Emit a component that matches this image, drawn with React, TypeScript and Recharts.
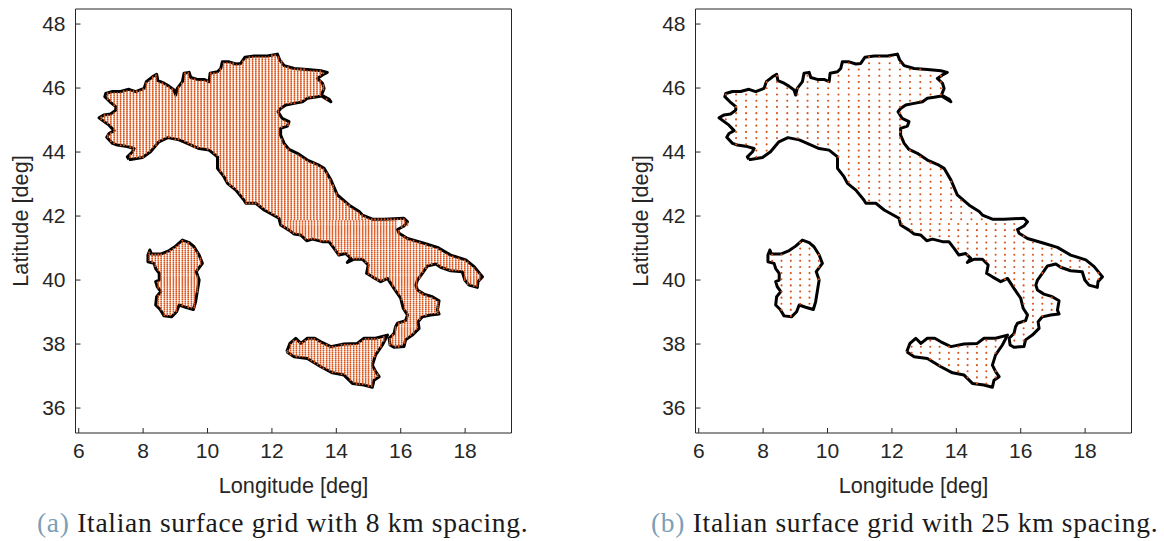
import * as React from "react";
import { ScatterChart, Scatter, XAxis, YAxis, Label } from "recharts";

const LON_TICKS = [6, 8, 10, 12, 14, 16, 18];
const LAT_TICKS = [36, 38, 40, 42, 44, 46, 48];

// coastline, [lon, lat]
const MAINLAND = [
  [7.56, 43.77], [7.51, 43.85], [7.67, 44.01], [7.72, 44.11], [7.51, 44.17], [7.2, 44.22], [7.05, 44.27], [6.87, 44.46],
  [6.94, 44.58], [7.1, 44.67], [6.94, 44.84], [6.79, 44.95], [6.63, 45.07], [6.79, 45.16], [6.99, 45.19], [7.15, 45.31],
  [7.15, 45.42], [6.97, 45.57], [6.81, 45.73], [6.84, 45.83], [7.05, 45.89], [7.3, 45.89], [7.56, 45.96], [7.77, 45.89],
  [8.03, 45.99], [8.1, 46.2], [8.29, 46.35], [8.42, 46.43], [8.46, 46.23], [8.65, 46.15], [8.8, 46.06], [8.96, 45.94],
  [9.01, 45.78], [9.06, 45.99], [9.22, 46.2], [9.27, 46.46], [9.43, 46.49], [9.48, 46.33], [9.68, 46.27], [9.89, 46.27],
  [10.05, 46.2], [10.08, 46.46], [10.31, 46.51], [10.41, 46.61], [10.46, 46.82], [10.67, 46.82], [10.88, 46.75], [11.03, 46.77],
  [11.16, 46.96], [11.45, 47.0], [11.86, 47.0], [12.17, 47.06], [12.24, 46.88], [12.38, 46.7], [12.69, 46.61], [13.1, 46.58],
  [13.52, 46.54], [13.72, 46.49], [13.57, 46.41], [13.41, 46.3], [13.57, 46.15], [13.62, 45.99], [13.54, 45.78], [13.78, 45.65],
  [13.83, 45.57], [13.54, 45.75], [13.31, 45.71], [13.1, 45.68], [12.95, 45.57], [12.69, 45.52], [12.43, 45.47], [12.27, 45.36],
  [12.19, 45.26], [12.32, 45.05], [12.53, 44.95], [12.48, 44.81], [12.27, 44.74], [12.27, 44.53], [12.38, 44.27], [12.53, 44.08],
  [12.79, 43.96], [13.1, 43.75], [13.46, 43.59], [13.62, 43.49], [13.83, 43.13], [14.03, 42.66], [14.4, 42.34], [14.71, 42.14],
  [14.81, 42.03], [15.12, 41.9], [15.48, 41.9], [16.1, 41.93], [16.21, 41.82], [16.1, 41.69], [15.9, 41.58], [15.95, 41.46],
  [16.21, 41.3], [16.72, 41.15], [17.14, 41.02], [17.55, 40.78], [18.02, 40.63], [18.28, 40.42], [18.54, 40.1], [18.4, 39.95],
  [18.38, 39.77], [18.12, 39.84], [17.99, 40.0], [17.91, 40.26], [17.55, 40.29], [17.24, 40.4], [17.09, 40.5], [16.83, 40.44],
  [16.67, 40.21], [16.52, 40.0], [16.47, 39.84], [16.52, 39.69], [16.72, 39.56], [16.98, 39.48], [17.19, 39.35], [17.14, 39.06],
  [17.19, 38.94], [16.93, 38.91], [16.67, 38.85], [16.54, 38.7], [16.57, 38.49], [16.36, 38.28], [16.15, 38.13], [16.1, 37.92],
  [15.79, 37.9], [15.67, 37.97], [15.64, 38.18], [15.79, 38.33], [15.84, 38.54], [15.9, 38.65], [16.15, 38.73], [16.21, 38.91],
  [16.08, 39.11], [16.0, 39.43], [15.79, 39.74], [15.59, 40.05], [15.38, 39.95], [15.12, 40.1], [14.94, 40.21], [14.99, 40.47],
  [14.81, 40.65], [14.55, 40.65], [14.34, 40.55], [14.45, 40.68], [14.29, 40.83], [14.08, 40.78], [13.93, 40.99], [13.77, 41.2],
  [13.57, 41.2], [13.26, 41.28], [13.08, 41.23], [12.89, 41.41], [12.69, 41.44], [12.53, 41.56], [12.27, 41.72], [12.22, 41.93],
  [11.76, 42.19], [11.5, 42.4], [11.19, 42.4], [11.13, 42.5], [10.88, 42.81], [10.62, 43.02], [10.51, 43.23], [10.31, 43.49],
  [10.31, 43.85], [10.05, 44.06], [9.74, 44.11], [9.37, 44.27], [9.12, 44.38], [8.77, 44.45], [8.49, 44.32], [8.23, 44.01],
  [7.98, 43.83], [7.61, 43.77], [7.56, 43.77],
];
const SARDINIA = [
  [8.55, 40.81], [8.26, 40.81], [8.21, 40.94], [8.15, 40.78], [8.15, 40.57], [8.34, 40.52], [8.39, 40.36], [8.5, 40.21],
  [8.5, 40.0], [8.39, 39.95], [8.44, 39.79], [8.55, 39.64], [8.42, 39.48], [8.39, 39.22], [8.53, 39.08], [8.65, 38.88],
  [8.88, 38.85], [9.04, 39.01], [9.12, 39.22], [9.32, 39.15], [9.56, 39.08], [9.63, 39.32], [9.74, 40.0], [9.65, 40.26],
  [9.84, 40.52], [9.74, 40.78], [9.58, 41.04], [9.43, 41.17], [9.22, 41.25], [9.01, 41.06], [8.81, 40.92], [8.55, 40.81],
];
const SICILY = [
  [12.46, 37.76], [12.56, 38.02], [12.74, 38.18], [12.9, 38.02], [13.1, 38.18], [13.33, 38.18], [13.52, 38.07], [13.83, 37.92],
  [14.24, 38.0], [14.65, 38.02], [14.86, 38.18], [15.22, 38.18], [15.59, 38.28], [15.43, 37.97], [15.22, 37.66], [15.12, 37.34],
  [15.22, 37.14], [15.33, 36.98], [15.17, 36.87], [15.12, 36.65], [14.86, 36.72], [14.5, 36.77], [14.24, 37.03], [13.88, 37.1],
  [13.52, 37.29], [13.1, 37.55], [12.69, 37.6], [12.46, 37.76],
];

// grid columns: [lon, lat from, lat to, (lat from, lat to ...)]
const NORTH_8KM = [
  [6.7, 45.02, 45.11], [6.8, 44.96, 45.17], [6.9, 44.45, 44.53, 44.88, 45.18, 45.62, 45.84], [7.0, 44.3, 44.61, 44.78, 45.2, 45.55, 45.87],
  [7.1, 44.25, 45.27, 45.46, 45.89], [7.2, 44.22, 45.89], [7.3, 44.2, 45.89], [7.4, 44.19, 45.92], [7.5, 44.17, 45.95],
  [7.6, 43.78, 43.94, 44.15, 45.93], [7.7, 43.78, 45.9], [7.8, 43.79, 45.9], [7.9, 43.8, 45.94], [8.0, 43.83, 45.98],
  [8.1, 43.92, 46.2], [8.2, 43.98, 46.27], [8.3, 44.09, 46.36], [8.4, 44.21, 46.41], [8.5, 44.33, 46.21], [8.6, 44.37, 46.17],
  [8.7, 44.42, 46.12], [8.8, 44.45, 46.06], [8.9, 44.42, 45.99], [9.0, 44.4, 45.8], [9.1, 44.39, 46.03], [9.2, 44.35, 46.17],
  [9.3, 44.3, 46.47], [9.4, 44.25, 46.49], [9.5, 44.2, 46.33], [9.6, 44.15, 46.29], [9.7, 44.11, 46.27], [9.8, 44.1, 46.27],
  [9.9, 44.09, 46.27], [10.0, 44.07, 46.23], [10.1, 44.03, 46.48], [10.2, 43.95, 46.49], [10.3, 43.86, 46.51], [10.4, 43.37, 46.6],
  [10.5, 43.24, 46.8], [10.6, 43.05, 46.82], [10.7, 42.93, 46.82], [10.8, 42.9, 46.78], [10.9, 42.79, 46.75], [11.0, 42.66, 46.77],
  [11.1, 42.54, 46.87], [11.2, 42.4, 46.96], [11.3, 42.4, 46.98], [11.4, 42.4, 47.0], [11.5, 42.4, 47.0], [11.6, 42.33, 47.0],
  [11.7, 42.24, 47.0], [11.8, 42.17, 47.0], [11.9, 42.12, 47.01], [12.0, 42.05, 47.03], [12.1, 41.97, 47.05], [12.2, 41.93, 47.0],
  [12.3, 41.87, 44.46, 44.75, 45.02, 45.4, 46.85], [12.4, 41.87, 44.25, 44.78, 44.98, 45.48, 46.7], [12.5, 41.87, 44.11, 44.82, 44.96, 45.5, 46.66],
  [12.6, 41.87, 44.02, 45.5, 46.64], [12.7, 41.87, 43.95, 45.52, 46.61], [12.8, 41.87, 43.95, 45.54, 46.6], [12.9, 41.87, 43.88, 45.56, 46.6],
  [13.0, 41.87, 43.82, 45.62, 46.59], [13.1, 41.87, 43.75, 45.68, 46.58], [13.2, 41.87, 43.71, 45.7, 46.57], [13.3, 41.87, 43.66, 45.71, 46.56],
  [13.4, 41.87, 43.61, 45.73, 46.55], [13.5, 41.87, 43.56, 45.76, 46.22, 46.36, 46.54], [13.6, 41.87, 43.48, 45.92, 46.12, 46.43, 46.52],
  [13.7, 41.87, 43.35, 45.64, 45.7], [13.8, 41.87, 43.18], [13.9, 41.87, 42.97], [14.0, 41.87, 42.73], [14.1, 41.87, 42.58],
  [14.2, 41.87, 42.49], [14.3, 41.87, 42.41], [14.4, 41.87, 42.34], [14.5, 41.87, 42.24], [14.6, 41.87, 42.17], [14.7, 41.87, 42.14],
  [14.8, 41.87, 42.04], [14.9, 41.87, 42.0], [15.0, 41.87, 41.95], [15.1, 41.87, 41.9], [15.2, 41.87, 41.9], [15.3, 41.87, 41.9],
  [15.4, 41.87, 41.9], [15.5, 41.87, 41.9], [15.6, 41.87, 41.9], [15.7, 41.87, 41.91], [15.8, 41.87, 41.91], [15.9, 41.87, 41.92],
  [16.0, 41.87, 41.92], [16.1, 41.87, 41.93],
];
const SOUTH_8KM = [
  [12.3, 41.7, 41.85], [12.39, 41.64, 41.85], [12.49, 41.58, 41.85, 37.73, 37.85], [12.58, 41.52, 41.85, 37.67, 38.03],
  [12.67, 41.45, 41.85, 37.62, 38.12], [12.76, 41.43, 41.85, 37.59, 38.16], [12.86, 41.41, 41.85, 37.58, 38.05], [12.95, 41.35, 41.85, 37.57, 38.06],
  [13.04, 41.27, 41.85, 37.56, 38.13], [13.14, 41.25, 41.85, 37.53, 38.18], [13.23, 41.27, 41.85, 37.47, 38.18], [13.32, 41.26, 41.85, 37.42, 38.18],
  [13.42, 41.23, 41.85, 37.35, 38.13], [13.51, 41.21, 41.85, 37.3, 38.08], [13.6, 41.2, 41.85, 37.24, 38.03], [13.7, 41.2, 41.85, 37.2, 37.98],
  [13.79, 41.17, 41.85, 37.15, 37.94], [13.88, 41.05, 41.85, 37.1, 37.92], [13.98, 40.92, 41.85, 37.08, 37.95], [14.07, 40.79, 41.85, 37.06, 37.97],
  [14.16, 40.8, 41.85, 37.05, 37.98], [14.26, 40.82, 41.85, 37.01, 38.0], [14.35, 40.75, 41.85, 36.94, 38.0], [14.44, 40.7, 41.85, 36.83, 38.01],
  [14.54, 40.65, 41.85, 36.76, 38.02], [14.63, 40.65, 41.85, 36.75, 38.02], [14.72, 40.65, 41.85, 36.74, 38.08], [14.82, 40.64, 41.85, 36.72, 38.15],
  [14.91, 40.54, 41.85, 36.71, 38.18], [15.0, 40.17, 41.85, 36.68, 38.18], [15.1, 40.11, 41.85, 36.66, 38.18],
  [15.19, 40.05, 41.85, 36.89, 37.2, 37.56, 38.2], [15.28, 40.0, 41.85, 36.95, 37.06, 37.77, 38.2], [15.38, 39.95, 41.85, 37.88, 38.22],
  [15.47, 39.99, 41.85, 38.04, 38.25], [15.56, 40.04, 41.85], [15.66, 39.94, 41.85, 37.95, 38.2], [15.75, 39.8, 41.85, 37.92, 38.29],
  [15.84, 39.66, 41.85, 37.91, 38.54], [15.94, 39.53, 41.55, 37.91, 38.66], [16.03, 39.36, 41.41, 41.62, 41.85, 37.92, 38.69],
  [16.12, 38.0, 38.72, 39.05, 41.36, 41.68, 41.85], [16.21, 38.17, 41.3, 41.7, 41.82], [16.3, 38.23, 41.27], [16.4, 38.32, 41.24],
  [16.49, 38.41, 41.21], [16.59, 38.76, 39.65, 40.02, 41.18], [16.68, 38.86, 39.58, 40.23, 41.16], [16.78, 38.88, 39.54, 40.36, 41.13],
  [16.87, 38.9, 39.49, 40.44, 41.09], [16.96, 38.91, 39.48, 40.47, 41.07], [17.06, 38.92, 39.43, 40.5, 41.04], [17.15, 38.93, 39.33, 40.49, 41.0],
  [17.24, 40.4, 40.93], [17.34, 40.36, 40.85], [17.43, 40.32, 40.8], [17.52, 40.29, 40.78], [17.61, 40.28, 40.74], [17.71, 40.28, 40.71],
  [17.8, 40.27, 40.68], [17.89, 40.26, 40.66], [17.99, 40.0, 40.63], [18.08, 39.87, 40.56], [18.17, 39.82, 40.49], [18.27, 39.8, 40.43],
  [18.36, 39.77, 40.3], [18.45, 39.95, 40.2],
  // Sardinia
  [8.19, 40.6, 40.88], [8.28, 40.54, 40.81], [8.38, 40.4, 40.81], [8.47, 39.15, 39.53, 39.75, 39.98, 40.25, 40.81], [8.56, 39.03, 40.81],
  [8.66, 38.88, 40.85], [8.75, 38.87, 40.9], [8.84, 38.85, 40.94], [8.94, 38.93, 41.02], [9.03, 39.0, 41.07], [9.12, 39.22, 41.16],
  [9.22, 39.19, 41.25], [9.31, 39.15, 41.21], [9.4, 39.13, 41.18], [9.5, 39.1, 41.09], [9.59, 39.13, 41.03],
  [9.68, 39.6, 40.17, 40.3, 40.88], [9.78, 40.44, 40.68],
];
const NORTH_25KM = [
  [6.84, 45.0, 45.17, 45.7, 45.82], [7.16, 44.23, 45.89], [7.47, 44.17, 45.94], [7.79, 43.79, 45.9], [8.11, 43.93, 46.2], [8.43, 44.24, 46.42],
  [8.75, 44.44, 46.1], [9.07, 44.39, 46.0], [9.38, 44.26, 46.49], [9.7, 44.11, 46.27], [10.02, 44.06, 46.3], [10.34, 43.8, 46.53],
  [10.66, 42.97, 46.82], [10.97, 42.7, 46.76], [11.29, 42.4, 46.98], [11.61, 42.32, 47.0], [11.93, 42.1, 47.01], [12.25, 41.87, 46.9],
  [12.56, 41.87, 44.05, 45.5, 46.65], [12.88, 41.87, 43.9, 45.55, 46.6], [13.2, 41.87, 43.71, 45.7, 46.57], [13.52, 41.87, 43.55, 45.77, 46.22, 46.38, 46.53],
  [13.84, 41.87, 43.12], [14.15, 41.87, 42.53], [14.47, 41.87, 42.26], [14.79, 41.87, 42.05],
];
const SOUTH_25KM = [
  [12.32, 41.69, 41.8], [12.61, 41.5, 41.8, 37.65, 38.06], [12.9, 41.4, 41.8, 37.58, 38.02], [13.19, 41.26, 41.8, 37.5, 38.18],
  [13.48, 41.22, 41.8, 37.32, 38.1], [13.77, 41.2, 41.8, 37.16, 37.95], [14.06, 40.8, 41.8, 37.06, 37.97], [14.35, 40.75, 41.8, 36.94, 38.0],
  [14.64, 40.65, 41.8, 36.75, 38.02], [14.93, 40.5, 41.8, 36.7, 38.18], [15.22, 40.03, 41.8, 36.9, 37.15, 37.66, 38.2], [15.51, 40.01, 41.8],
  [15.8, 39.72, 41.8, 37.92, 38.4], [16.09, 37.93, 38.7, 39.1, 41.38], [16.38, 38.3, 41.25], [16.67, 38.85, 39.58, 40.21, 41.16],
  [16.96, 38.91, 39.48, 40.47, 41.07], [17.25, 40.4, 40.92], [17.54, 40.29, 40.77], [17.83, 40.27, 40.68], [18.12, 39.84, 40.52], [18.41, 39.85, 40.25],
  // Sardinia
  [8.28, 40.54, 40.81], [8.57, 39.03, 40.81], [8.86, 38.85, 40.95], [9.15, 39.21, 41.18], [9.44, 39.12, 41.17], [9.73, 39.95, 40.2, 40.35, 40.8],
];

// the grid rows sit on a regular latitude pitch, so a column span opens into its nodes
function gridPoints(columns: number[][], base: number, pitch: number) {
  const points: { lon: number; lat: number }[] = [];
  columns.forEach(([lon, ...spans]) => {
    for (let i = 0; i < spans.length; i += 2) {
      const first = Math.ceil((spans[i] - base) / pitch);
      const last = Math.floor((spans[i + 1] - base) / pitch);
      for (let k = first; k <= last; k++) {
        points.push({ lon, lat: base + k * pitch });
      }
    }
  });
  return points;
}

const toPoints = (line: number[][]) => line.map(([lon, lat]) => ({ lon, lat }));

const FONT = "'Liberation Sans', Arial, sans-serif";
const INK = "#262626";
const ORANGE = "#d95319";

type PanelProps = {
  left: number;
  north: number[][];
  south: number[][];
  northPitch: number;
  southPitch: number;
  southBase: number;
  radius: number;
};

function Panel(props: PanelProps) {
  const { left, north, south, northPitch, southPitch, southBase, radius } = props;
  const dots = [...gridPoints(south, southBase, southPitch), ...gridPoints(north, 41.9, northPitch)];
  const tickStyle = { fontSize: 21, fontFamily: FONT, fill: INK };
  const axisLine = { stroke: INK, strokeWidth: 1 };
  const xDomain = [5.9, 19.44];
  const yDomain = [35.22, 48.47];

  return (
    <div style={{ position: "absolute", left, top: 0 }}>
      <ScatterChart width={540} height={510} margin={{ left: 74.5, right: 27.5, top: 8, bottom: 76 }}>
        <XAxis
          type="number"
          dataKey="lon"
          domain={xDomain}
          ticks={LON_TICKS}
          height={1}
          interval={0}
          tickSize={-5}
          tickMargin={15}
          tick={tickStyle}
          tickLine={axisLine}
          axisLine={axisLine}
        >
          <Label
            value="Longitude [deg]"
            position="bottom"
            offset={44}
            style={{ fontSize: 21.7, fontFamily: FONT, fill: INK }}
          />
        </XAxis>
        <XAxis
          xAxisId="top"
          type="number"
          dataKey="lon"
          orientation="top"
          domain={xDomain}
          ticks={LON_TICKS}
          height={1}
          interval={0}
          tickSize={-5}
          tick={false}
          tickLine={axisLine}
          axisLine={axisLine}
        />
        <YAxis
          type="number"
          dataKey="lat"
          domain={yDomain}
          ticks={LAT_TICKS}
          width={1}
          interval={0}
          tickSize={-5}
          tickMargin={15}
          tick={tickStyle}
          tickLine={axisLine}
          axisLine={axisLine}
        >
          <Label
            value="Latitude [deg]"
            angle={-90}
            position="left"
            offset={54}
            style={{ fontSize: 21.7, fontFamily: FONT, fill: INK, textAnchor: "middle" }}
          />
        </YAxis>
        <YAxis
          yAxisId="right"
          type="number"
          dataKey="lat"
          orientation="right"
          domain={yDomain}
          ticks={LAT_TICKS}
          width={1}
          interval={0}
          tickSize={-5}
          tick={false}
          tickLine={axisLine}
          axisLine={axisLine}
        />
        {[MAINLAND, SARDINIA, SICILY].map((outline, i) => (
          <Scatter
            key={i}
            data={toPoints(outline)}
            line={{ stroke: "#000", strokeWidth: 3, strokeLinejoin: "round" }}
            shape={() => <g />}
            isAnimationActive={false}
          />
        ))}
        <Scatter
          data={dots}
          isAnimationActive={false}
          shape={(p: any) => <circle cx={p.cx} cy={p.cy} r={radius} fill={ORANGE} />}
        />
      </ScatterChart>
    </div>
  );
}

function Caption(props: { left: number; tag: string; text: string }) {
  return (
    <div
      style={{
        position: "absolute",
        left: props.left,
        top: 508,
        fontFamily: "'Liberation Serif', serif",
        fontSize: 27.5,
        lineHeight: "30px",
        whiteSpace: "nowrap",
        color: "#1a1a1a",
        letterSpacing: 0.7,
      }}
    >
      <span style={{ color: "#7b9fb8" }}>{props.tag}</span> {props.text}
    </div>
  );
}

export default function App() {
  return (
    <div style={{ position: "absolute", left: 0, top: 0, width: 1164, height: 541, background: "#fff", overflow: "hidden" }}>
      <Panel left={0} north={NORTH_8KM} south={SOUTH_8KM} northPitch={0.0625} southPitch={0.0613} southBase={41.84} radius={0.95} />
      <Panel left={620} north={NORTH_25KM} south={SOUTH_25KM} northPitch={0.195} southPitch={0.1917} southBase={41.75} radius={1.05} />
      <Caption left={37} tag="(a)" text="Italian surface grid with 8 km spacing." />
      <Caption left={651} tag="(b)" text="Italian surface grid with 25 km spacing." />
    </div>
  );
}
